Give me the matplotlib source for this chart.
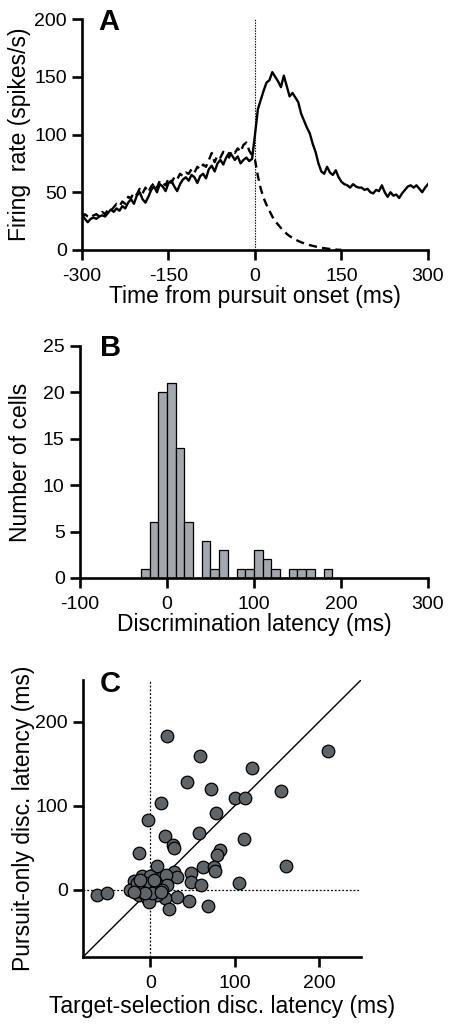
import matplotlib.pyplot as plt
import numpy as np

plt.rcParams['font.family'] = ['Liberation Sans', 'DejaVu Sans']
plt.rcParams['axes.unicode_minus'] = False

# --- panel A: firing rate traces (values every 5 ms) ---
t_solid = list(range(-300, 305, 5))
rate_solid = [30, 27, 24, 27, 28, 27, 29, 30, 29, 32, 35, 33, 36, 34, 38, 36, 41, 44, 40, 47,
              50, 44, 41, 46, 52, 55, 50, 57, 55, 51, 58, 60, 55, 51, 57, 61, 63, 60, 65, 63,
              58, 64, 66, 62, 70, 73, 68, 75, 78, 74, 80, 84, 82, 78, 81, 75, 78, 80, 77, 79,
              100, 122, 130, 138, 145, 147, 154, 150, 146, 141, 151, 142, 133, 136, 132, 128,
              118, 112, 106, 101, 92, 85, 75, 68, 66, 72, 67, 65, 69, 63, 59, 57, 56, 54, 57,
              55, 54, 54, 52, 53, 50, 49, 52, 51, 56, 50, 46, 50, 47, 48, 45, 49, 52, 55, 56,
              54, 56, 53, 50, 54, 57]

t_dashed = list(range(-300, 155, 5))
rate_dashed = [28, 31, 29, 28, 30, 31, 29, 33, 31, 35, 34, 37, 40, 38, 42, 40, 46, 45, 50, 48,
               53, 49, 54, 50, 55, 58, 54, 60, 58, 56, 62, 58, 63, 61, 66, 64, 67, 66, 70, 67,
               72, 70, 74, 72, 78, 84, 76, 82, 80, 85, 84, 80, 86, 84, 88, 85, 91, 93, 86, 82,
               78, 64, 53, 45, 39, 34, 29, 25, 22, 19, 16.5, 14, 12, 10.5, 9, 7.8, 6.7, 5.8,
               5, 4.2, 3.6, 3, 2.5, 2, 1.6, 1.2, 0.9, 0.6, 0.4, 0.2, 0.1]

# --- panel B: histogram of discrimination latency ---
bin_edges = [-30, -20, -10, 0, 10, 20, 30, 40, 50, 60, 70, 80, 90, 100, 110, 120, 130,
             140, 150, 160, 170, 180, 190]
cell_counts = [1, 6, 20, 21, 14, 6, 0, 4, 1, 3, 0, 1, 1, 3, 2, 1, 0, 1, 1, 1, 0, 1]

# --- panel C: target-selection vs pursuit-only latency ---
ts_latency = [20, 211, 59, 121, 44, 72, 155, 100, 112, 12, 78, -3, 58, 17, 27, 28, 111, 83,
              79, -13, 161, 8, 63, 76, 77, 48, 28, 32, 48, 60, 105, -63, -52, 31, 46, 17, 22,
              68,
              -10, 0, 12, 18, -20, -18, -24, -8, 4, -2, -14, -4, 8, -2, -16, 6, 10, -6, 2,
              20, -10, 14, -6, -12, 4, 12, -20]
po_latency = [183, 166, 160, 145, 129, 120, 118, 109, 109, 103, 92, 83, 68, 64, 54, 50, 61, 47,
              42, 44, 29, 29, 27, 27, 22, 20, 21, 15, 9, 6, 8, -6, -4, -8, -13, -10, -23,
              -19,
              16, 16, 14, 18, 10, 2, 0, 4, 8, 0, -6, -10, -6, -14, 8, 2, 4, 8, -4,
              6, -2, 0, -4, 12, 12, -2, -2]

fig = plt.figure(figsize=(4.52, 10.28), dpi=100)

lab_fs = 16.5
tick_fs = 14
spine_lw = 1.9


def style_axes(ax):
    for side in ['top', 'right']:
        ax.spines[side].set_visible(False)
    for side in ['left', 'bottom']:
        ax.spines[side].set_linewidth(spine_lw)
    ax.tick_params(direction='out', length=7, width=spine_lw, labelsize=tick_fs, pad=4)
    ax.tick_params(axis='x', pad=6)


# Panel A
axA = fig.add_axes([82 / 452, 1 - 250 / 1028, 346 / 452, 231 / 1028])
axA.plot(t_solid, rate_solid, color='black', lw=1.7, solid_joinstyle='round')
axA.plot(t_dashed, rate_dashed, color='black', lw=1.7, dashes=(3.5, 2.2))
axA.plot([0, 0], [0, 200], color='black', lw=0.8, linestyle=(0, (1.2, 1.2)))
axA.set_xlim(-300, 300)
axA.set_ylim(0, 200)
axA.set_xticks([-300, -150, 0, 150, 300])
axA.set_yticks([0, 50, 100, 150, 200])
style_axes(axA)
axA.set_xlabel('Time from pursuit onset (ms)', fontsize=lab_fs, labelpad=0)
axA.set_ylabel('Firing  rate (spikes/s)', fontsize=lab_fs, labelpad=2)
axA.text(0.046, 0.985, 'A', transform=axA.transAxes, fontsize=21, fontweight='bold',
         ha='left', va='center')

# Panel B
axB = fig.add_axes([80 / 452, 1 - 578 / 1028, 348 / 452, 232 / 1028])
axB.bar(bin_edges[:-1], cell_counts, width=10, align='edge', color='#a3a7ae',
        edgecolor='black', linewidth=0.9)
axB.set_xlim(-100, 300)
axB.set_ylim(0, 25)
axB.set_xticks([-100, 0, 100, 200, 300])
axB.set_yticks([0, 5, 10, 15, 20, 25])
style_axes(axB)
axB.set_xlabel('Discrimination latency (ms)', fontsize=lab_fs, labelpad=0)
axB.set_ylabel('Number of cells', fontsize=lab_fs, labelpad=8)
axB.text(0.057, 0.993, 'B', transform=axB.transAxes, fontsize=21, fontweight='bold',
         ha='left', va='center')

# Panel C
axC = fig.add_axes([83 / 452, 1 - 957 / 1028, 278 / 452, 277 / 1028])
axC.plot([-80, 250], [-80, 250], color='black', lw=1.0, zorder=1)
axC.plot([0, 0], [-80, 250], color='black', lw=0.9, linestyle=(0, (1.5, 1.5)), zorder=1)
axC.plot([-80, 250], [0, 0], color='black', lw=0.9, linestyle=(0, (1.5, 1.5)), zorder=1)
axC.scatter(ts_latency, po_latency, s=82, color='#5f6469', edgecolor='black',
            linewidth=0.9, zorder=3)
axC.set_xlim(-80, 250)
axC.set_ylim(-80, 250)
axC.set_xticks([0, 100, 200])
axC.set_yticks([0, 100, 200])
style_axes(axC)
axC.set_xlabel('Target-selection disc. latency (ms)', fontsize=lab_fs, labelpad=2)
axC.set_ylabel('Pursuit-only disc. latency (ms)', fontsize=lab_fs, labelpad=0)
axC.text(0.061, 0.987, 'C', transform=axC.transAxes, fontsize=21, fontweight='bold',
         ha='left', va='center')

fig.savefig('out.png', dpi=100)
